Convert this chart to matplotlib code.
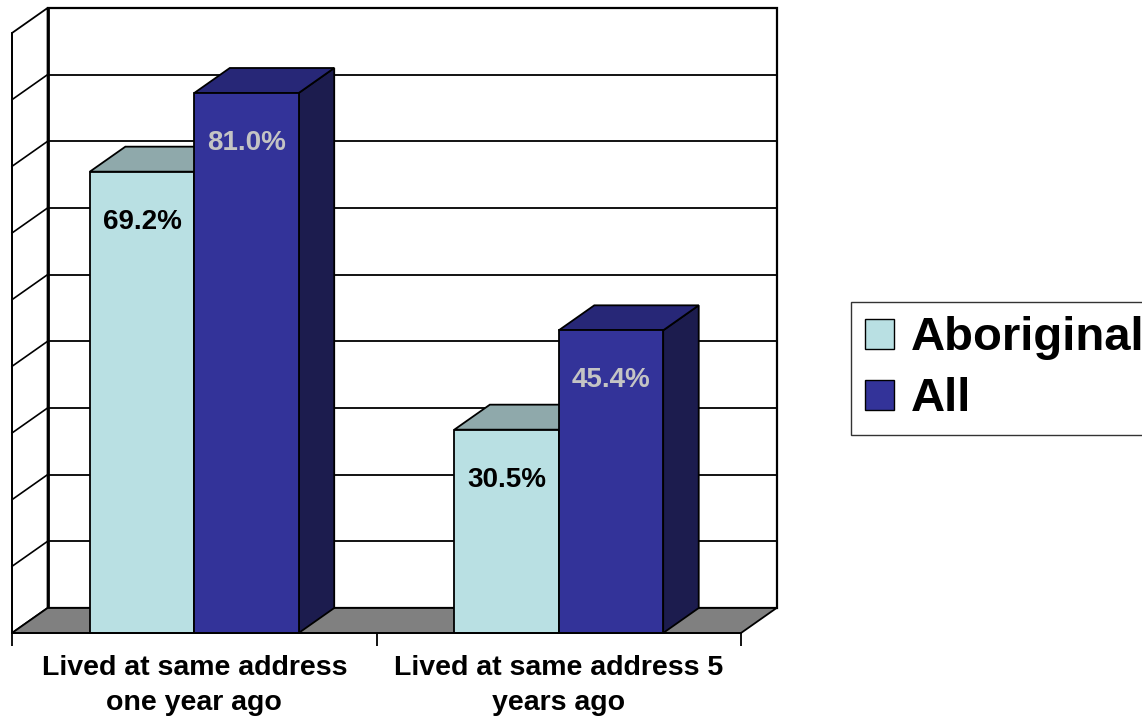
import matplotlib.pyplot as plt
from matplotlib.patches import Polygon, Patch

plt.rcParams['font.family'] = ['Liberation Sans', 'DejaVu Sans']
plt.rcParams['font.weight'] = 'bold'

categories = ['Lived at same address\none year ago', 'Lived at same address 5\nyears ago']
series = ['Aboriginal', 'All']
aboriginal = [69.2, 30.5]
all_people = [81.0, 45.4]
values = [aboriginal, all_people]

# face colours per series: front, top, right side
front_col = ['#B9E0E3', '#333399']
top_col = ['#8FA9AB', '#272777']
side_col = ['#7E9798', '#1C1C4E']
label_col = ['black', '#C4C4C4']

ymax = 90
dx, dy = 0.0975, 3.75     # depth offset of the back wall
bw = 0.2865               # bar width in category units

fig = plt.figure(figsize=(11.42, 7.18), dpi=100)
ax = fig.add_axes([12/1142, 85/718, 729/1142, 600/718])
ax.set_xlim(0, 2)
ax.set_ylim(0, ymax)

def poly(pts, fc, lw=1.3, z=1):
    ax.add_patch(Polygon(pts, closed=True, facecolor=fc, edgecolor='black',
                         lw=lw, joinstyle='miter', clip_on=False, zorder=z))

# back wall with gridlines
poly([(dx, dy), (2+dx, dy), (2+dx, ymax+dy), (dx, ymax+dy)], 'white', lw=1.6)
for v in range(10, ymax, 10):
    ax.plot([dx, 2+dx], [v+dy, v+dy], color='black', lw=1.3, clip_on=False, zorder=1)

# left wall
poly([(0, 0), (dx, dy), (dx, ymax+dy), (0, ymax)], 'white', lw=1.3)
for v in range(10, ymax, 10):
    ax.plot([0, dx], [v, v+dy], color='black', lw=1.2, clip_on=False, zorder=1)
ax.plot([dx, dx], [dy, ymax+dy], color='black', lw=2.0, clip_on=False, zorder=1)

# floor
poly([(0, 0), (2, 0), (2+dx, dy), (dx, dy)], '#808080', lw=1.3, z=2)

# bars
for i in range(len(categories)):
    c = i + 0.5
    for s in range(len(series)):
        v = values[s][i]
        x0 = c - bw + s*bw
        x1 = x0 + bw
        poly([(x1, 0), (x1+dx, dy), (x1+dx, v+dy), (x1, v)], side_col[s], z=3)
        poly([(x0, v), (x0+dx, v+dy), (x1+dx, v+dy), (x1, v)], top_col[s], z=3)
        poly([(x0, 0), (x1, 0), (x1, v), (x0, v)], front_col[s], z=3)
        ax.text((x0+x1)/2, v - 7.5, '%.1f%%' % v, ha='center', va='center',
                fontsize=20, fontweight='bold', color=label_col[s], zorder=4)

for side in ['top', 'right']:
    ax.spines[side].set_visible(False)
ax.spines['left'].set_linewidth(1.3)
ax.spines['bottom'].set_linewidth(1.3)
ax.spines['bottom'].set_zorder(5)
ax.set_yticks([])
ax.set_xticks([0, 1, 2])
ax.set_xticklabels([])
ax.tick_params(axis='x', which='major', length=9, width=1.3, direction='out')
ax.set_xticks([0.5, 1.5], minor=True)
ax.set_xticklabels(categories, minor=True, fontsize=20.5, fontweight='bold',
                   linespacing=1.45)
ax.tick_params(axis='x', which='minor', length=0, pad=16)

handles = [Patch(facecolor=front_col[s], edgecolor='black', lw=1.0) for s in range(len(series))]
leg = fig.legend(handles, series, loc='upper left', bbox_to_anchor=(851/1142, 1-302/718),
                 prop={'weight': 'bold', 'size': 34}, frameon=True,
                 fancybox=False, edgecolor='black', borderaxespad=0,
                 handlelength=0.6, handleheight=0.6, handletextpad=0.36,
                 labelspacing=0.36, borderpad=0.3)
leg.get_frame().set_linewidth(1.0)

fig.savefig('out.png', dpi=100)
